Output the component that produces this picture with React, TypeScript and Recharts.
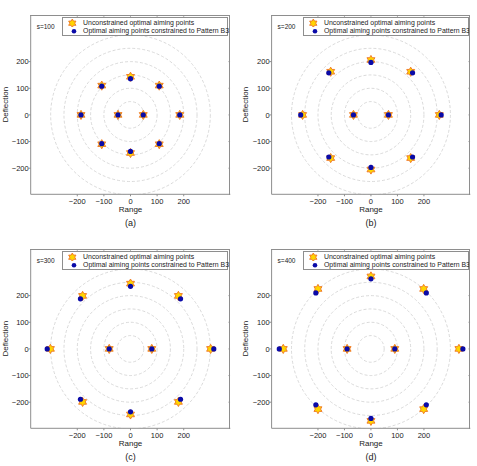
import React from 'react';
import { ScatterChart, Scatter, XAxis, YAxis, ReferenceArea, ReferenceLine, Legend } from 'recharts';

const FONT = '"Liberation Sans", Arial, Helvetica, sans-serif';

const ringRadii = [50, 100, 150, 200, 250, 300];
const axisTicks = [-200, -100, 0, 100, 200];
const xDomain: [number, number] = [-375, 375];
const yDomain: [number, number] = [-298, 375];

const legendLabels = ['Unconstrained optimal aiming points', 'Optimal aiming points constrained to Pattern B3'];
const sLabels = ['s=100', 's=200', 's=300', 's=400'];
const captions = ['(a)', '(b)', '(c)', '(d)'];

const unconstrainedS100 = [
  { x: 0, y: 143 }, { x: 108, y: 110 }, { x: 185, y: 0 }, { x: 108, y: -110 }, { x: 0, y: -143 },
  { x: -108, y: -110 }, { x: -186, y: 0 }, { x: -108, y: 110 }, { x: -47, y: 0 }, { x: 48, y: 0 },
];
const constrainedS100 = [
  { x: 0, y: 136 }, { x: 108, y: 108 }, { x: 185, y: 0 }, { x: 108, y: -108 }, { x: 0, y: -137 },
  { x: -108, y: -108 }, { x: -186, y: 0 }, { x: -108, y: 108 }, { x: -47, y: 0 }, { x: 48, y: 0 },
];
const unconstrainedS200 = [
  { x: 0, y: 206 }, { x: 150, y: 162 }, { x: 258, y: 0 }, { x: 150, y: -162 }, { x: 0, y: -205 },
  { x: -152, y: -162 }, { x: -258, y: 0 }, { x: -152, y: 162 }, { x: -66, y: 0 }, { x: 66, y: 0 },
];
const constrainedS200 = [
  { x: 0, y: 197 }, { x: 157, y: 158 }, { x: 265, y: 0 }, { x: 157, y: -158 }, { x: 0, y: -197 },
  { x: -159, y: -158 }, { x: -265, y: 0 }, { x: -159, y: 158 }, { x: -66, y: 0 }, { x: 66, y: 0 },
];
const unconstrainedS300 = [
  { x: 0, y: 245 }, { x: 180, y: 199 }, { x: 301, y: 0 }, { x: 180, y: -199 }, { x: 0, y: -246 },
  { x: -180, y: -199 }, { x: -301, y: 0 }, { x: -180, y: 199 }, { x: -80, y: 0 }, { x: 80, y: 0 },
];
const constrainedS300 = [
  { x: 0, y: 235 }, { x: 188, y: 188 }, { x: 313, y: 0 }, { x: 188, y: -189 }, { x: 0, y: -236 },
  { x: -188, y: -189 }, { x: -313, y: 0 }, { x: -188, y: 188 }, { x: -80, y: 0 }, { x: 80, y: 0 },
];
const unconstrainedS400 = [
  { x: 0, y: 272 }, { x: 199, y: 225 }, { x: 332, y: 0 }, { x: 199, y: -226 }, { x: 0, y: -270 },
  { x: -200, y: -226 }, { x: -331, y: 0 }, { x: -200, y: 225 }, { x: -90, y: 0 }, { x: 90, y: 0 },
];
const constrainedS400 = [
  { x: 0, y: 263 }, { x: 209, y: 210 }, { x: 347, y: 0 }, { x: 209, y: -210 }, { x: 0, y: -261 },
  { x: -208, y: -210 }, { x: -346, y: 0 }, { x: -208, y: 210 }, { x: -90, y: 0 }, { x: 90, y: 0 },
];

const panels = [
  { s: sLabels[0], caption: captions[0], stars: unconstrainedS100, dots: constrainedS100, left: 0, top: 0, axisW: 30.7 },
  { s: sLabels[1], caption: captions[1], stars: unconstrainedS200, dots: constrainedS200, left: 240, top: 0, axisW: 31.6 },
  { s: sLabels[2], caption: captions[2], stars: unconstrainedS300, dots: constrainedS300, left: 0, top: 234, axisW: 30.7 },
  { s: sLabels[3], caption: captions[3], stars: unconstrainedS400, dots: constrainedS400, left: 240, top: 234, axisW: 31.6 },
];

const STAR_FILL = '#FFD500';
const STAR_EDGE = '#EE7422';
const DOT_FILL = '#0a0aa8';
const BOX = '#8e8e8e';
const TEXT = '#222';

function starPath(cx: number, cy: number, R: number) {
  const r = R * 0.577;
  let d = '';
  for (let i = 0; i < 12; i++) {
    const ang = -Math.PI / 2 + (i * Math.PI) / 6;
    const rad = i % 2 === 0 ? R : r;
    d += (i === 0 ? 'M' : 'L') + (cx + rad * Math.cos(ang)).toFixed(2) + ',' + (cy + rad * Math.sin(ang)).toFixed(2);
  }
  return d + 'Z';
}

const StarShape = (props: any) => {
  const { cx, cy } = props;
  if (cx == null || cy == null) return <g />;
  return <path d={starPath(cx, cy, 4.6)} fill={STAR_FILL} stroke={STAR_EDGE} strokeWidth={0.9} strokeLinejoin="round" />;
};

const DotShape = (props: any) => {
  const { cx, cy } = props;
  if (cx == null || cy == null) return <g />;
  return <circle cx={cx} cy={cy} r={2.6} fill={DOT_FILL} />;
};

const RingShape = (props: any) => {
  const { x, y, width, height } = props;
  return (
    <ellipse
      cx={x + width / 2}
      cy={y + height / 2}
      rx={Math.abs(width) / 2}
      ry={Math.abs(height) / 2}
      fill="none"
      stroke="#cdcdcd"
      strokeWidth={0.75}
      strokeDasharray="3 2"
      clipPath={props.clipPath}
    />
  );
};

const fmt = (v: number) => (v < 0 ? '\u2212' + Math.abs(v) : String(v));

const LegendBox = () => (
  <div
    style={{
      width: 166,
      height: 18.4,
      boxSizing: 'border-box',
      border: `0.8px solid ${BOX}`,
      background: '#fff',
      fontFamily: FONT,
      fontSize: 6.9,
      color: TEXT,
      paddingTop: 0.6,
    }}
  >
    <div style={{ display: 'flex', alignItems: 'center', height: 8.4 }}>
      <svg width={20} height={8.4} style={{ flex: 'none' }}>
        <path d={starPath(9.3, 4.2, 4.2)} fill={STAR_FILL} stroke={STAR_EDGE} strokeWidth={0.9} />
      </svg>
      <span style={{ whiteSpace: 'nowrap', lineHeight: '8.4px' }}>{legendLabels[0]}</span>
    </div>
    <div style={{ display: 'flex', alignItems: 'center', height: 8.4 }}>
      <svg width={20} height={8.4} style={{ flex: 'none' }}>
        <circle cx={11} cy={4.2} r={2.3} fill={DOT_FILL} />
      </svg>
      <span style={{ whiteSpace: 'nowrap', lineHeight: '8.4px' }}>{legendLabels[1]}</span>
    </div>
  </div>
);

const Panel = ({ p }: { p: (typeof panels)[number] }) => {
  const W = 240;
  const H = 230;
  const M_TOP = 15;
  const M_RIGHT = 9.7;
  const M_BOTTOM = 15.7;
  const X_AXIS_H = 20;
  const plotLeft = p.axisW;
  const plotRight = W - M_RIGHT;
  const plotBottom = H - M_BOTTOM - X_AXIS_H;
  const plotCenter = (plotLeft + plotRight) / 2;
  const innerTop = yDomain[1] - 1;
  const innerRight = xDomain[1] - 1;
  return (
    <div style={{ position: 'absolute', left: p.left, top: p.top, width: W, height: H + 10 }}>
      <ScatterChart width={W} height={H} margin={{ top: M_TOP, right: M_RIGHT, bottom: M_BOTTOM, left: 0 }}>
        <XAxis
          type="number"
          dataKey="x"
          domain={xDomain}
          ticks={axisTicks}
          interval={0}
          allowDataOverflow
          tickFormatter={fmt}
          height={X_AXIS_H}
          tickSize={2}
          tickMargin={2.5}
          stroke={BOX}
          tick={{ fill: TEXT, fontSize: 7.5, fontFamily: FONT }}
          label={{ value: 'Range', position: 'insideBottom', offset: 2, fill: TEXT, fontSize: 8, fontFamily: FONT }}
        />
        <YAxis
          type="number"
          dataKey="y"
          domain={yDomain}
          ticks={axisTicks}
          interval={0}
          allowDataOverflow
          tickFormatter={fmt}
          width={p.axisW}
          tickSize={2}
          tickMargin={0}
          stroke={BOX}
          tick={{ fill: TEXT, fontSize: 7.5, fontFamily: FONT }}
          label={{
            value: 'Deflection',
            angle: -90,
            position: 'insideLeft',
            offset: 5.5,
            fill: TEXT,
            fontSize: 8,
            fontFamily: FONT,
            style: { textAnchor: 'middle' },
          }}
        />
        {ringRadii.map((r) => (
          <ReferenceArea
            key={r}
            x1={-r}
            x2={r}
            y1={-r}
            y2={r}
            ifOverflow="hidden"
            shape={RingShape}
          />
        ))}
        {axisTicks.map((t) => (
          <ReferenceLine
            key={'tt' + t}
            segment={[{ x: t, y: innerTop }, { x: t, y: innerTop - 6 }]}
            stroke={BOX}
            strokeWidth={0.8}
          />
        ))}
        {axisTicks.map((t) => (
          <ReferenceLine
            key={'rt' + t}
            segment={[{ x: innerRight, y: t }, { x: innerRight - 6, y: t }]}
            stroke={BOX}
            strokeWidth={0.8}
          />
        ))}
        <Legend
          layout="vertical"
          verticalAlign="middle"
          align="center"
          content={() => <LegendBox />}
          wrapperStyle={{ position: 'absolute', left: plotLeft + 31.4, top: 17.3, width: 166, height: 18.4 }}
        />
        <Scatter name={legendLabels[0]} data={p.stars} shape={StarShape} isAnimationActive={false} />
        <Scatter name={legendLabels[1]} data={p.dots} shape={DotShape} isAnimationActive={false} />
      </ScatterChart>
      <div
        style={{
          position: 'absolute',
          left: plotLeft - 0.5,
          top: M_TOP,
          width: plotRight - plotLeft + 0.5,
          height: plotBottom - M_TOP + 0.5,
          boxSizing: 'border-box',
          borderTop: `1px solid ${BOX}`,
          borderRight: `1px solid ${BOX}`,
          pointerEvents: 'none',
        }}
      />
      <div
        style={{
          position: 'absolute',
          left: plotLeft + 6,
          top: 22.6,
          fontFamily: FONT,
          fontSize: 6.5,
          lineHeight: '8px',
          color: TEXT,
          whiteSpace: 'nowrap',
        }}
      >
        {p.s}
      </div>
      <div
        style={{
          position: 'absolute',
          left: plotCenter - 20,
          width: 40,
          top: 217.8,
          textAlign: 'center',
          fontFamily: FONT,
          fontSize: 9,
          lineHeight: '10px',
          color: TEXT,
        }}
      >
        {p.caption}
      </div>
    </div>
  );
};

export default function App() {
  return (
    <div style={{ position: 'absolute', left: 0, top: 0, width: 477, height: 466, background: '#fff', overflow: 'hidden' }}>
      {panels.map((p) => (
        <Panel key={p.caption} p={p} />
      ))}
    </div>
  );
}
